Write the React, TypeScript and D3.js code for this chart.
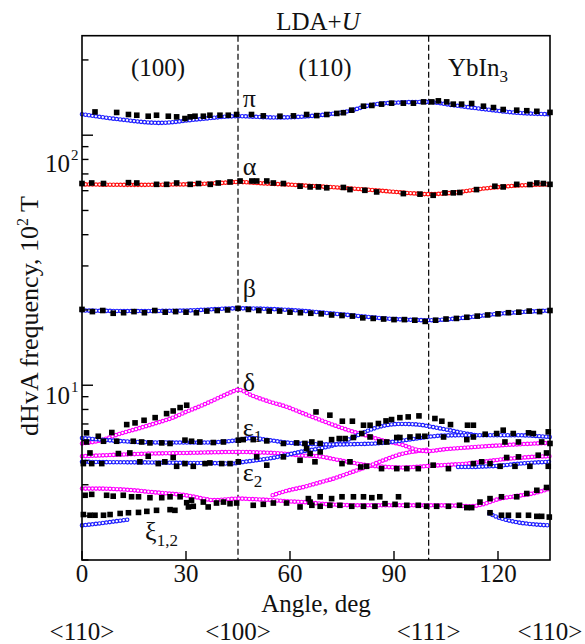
import React from 'react';
import * as d3 from 'd3';

// ---------- data (angle in deg, frequency in 10^2 T) ----------
const xTickValues = [0, 30, 60, 90, 120];
const yMajorValues = [10, 100];
const dividerAngles = [45, 100];
const directionLabels: [string, number][] = [['<110>', 0], ['<100>', 45], ['<111>', 100], ['<110>', 135]];

const piFit = [[0,121.3],[11,115.6],[22.5,112],[33,115.6],[45,119.1],[56,117.7],[67.7,119.9],[78,125.9],[83,131.8],[89,134.6],[99.4,135.9],[107,131.8],[116.7,126.7],[126,122.8],[135,121.3]];
const alphaFit = [[0,63.6],[15,63.3],[30,63.6],[40,64.4],[45,65.0],[52,64.2],[60,63.4],[68,62.5],[78,61.2],[88,59.7],[95,58.6],[100,58.1],[106,58.7],[116,61.2],[126,62.9],[135,63.6]];
const betaFit = [[0,19.9],[15,19.8],[30,19.9],[45,20.3],[60,20.0],[75,19.2],[90,18.4],[100,18.2],[110,18.6],[120,19.3],[135,19.9]];
const eps1Blue = [[0,6.15],[6,6.05],[16,5.93],[25,5.9],[35,5.9],[41,5.95],[45,6.03],[49,6.15],[54,6.03],[59,5.9],[64,5.84],[69,5.8],[75,5.8],[80,5.82],[85,5.85],[90,5.95],[95,6.08],[100,6.22],[105,6.3],[115,6.31],[125,6.31],[135,6.21]];
const eps2Blue = [[0,4.94],[10,4.92],[20,4.91],[30,4.89],[38,4.88],[43,4.86],[47,4.94],[52,5.05],[56,5.15],[60,5.3],[64,5.45],[69,5.6],[72.5,5.75],[77.3,6.1],[82.1,6.55],[86.9,6.88],[91.7,7.0],[96.5,6.97],[101.3,6.8],[106.2,6.6],[111,6.4],[114,6.3]];
const eps2BlueRight = [[108.5,4.71],[112,4.71],[116,4.73],[120,4.76],[125,4.84],[130,4.9],[135,4.94]];
const xiBlueLeft = [[0,2.75],[5,2.8],[10,2.86],[14,2.91]];
const xiBlueRight = [[117.5,3.07],[119,3.0],[121,2.93],[125,2.84],[130,2.78],[135,2.75]];
const deltaFit = [[0,5.85],[5,6.0],[11,6.4],[16,6.7],[21,7.03],[26,7.4],[30,7.82],[35,8.35],[40,8.98],[44,9.5],[45,9.6],[49,9.1],[54,8.6],[59,8.2],[64,7.7],[69,7.24],[73,6.9],[77,6.6],[82,6.3],[87,6.0],[92,5.8],[96,5.55],[99.5,5.45],[105,5.55],[110,5.62],[120,5.74],[130,5.84],[135,5.88]];
const midMagenta = [[0,5.2],[10,5.27],[20,5.33],[30,5.36],[40,5.4],[45,5.41],[52,5.38],[58,5.33],[63,5.24],[68,5.2],[72.5,5.07],[77,4.93],[82,4.79],[87,4.72],[92,4.69],[96,4.71],[99.5,4.75],[105,4.8],[111,4.86],[116,4.95],[121,5.05],[126,5.12],[130,5.17],[135,5.2]];
const riseMagenta = [[55,3.63],[59,3.78],[64,3.92],[69,4.1],[72.5,4.23],[77,4.45],[82,4.71],[87,5.01],[92,5.3],[96.5,5.45],[99.5,5.52]];
const lowMagenta = [[0,3.86],[5,3.86],[10,3.84],[15,3.8],[20,3.74],[25,3.69],[30,3.63],[35,3.52],[38,3.47],[42,3.5],[45,3.52],[50,3.5],[55,3.47],[60,3.43],[64,3.41],[70,3.35],[80,3.31],[90,3.31],[100,3.31],[108,3.3],[112,3.28],[116,3.35],[120,3.5],[125,3.6],[130,3.69],[135,3.86]];

const piObs = [[3.75,123.9],[10,123.3],[13.4,121],[15.8,120.2],[19.1,119.1],[21.5,120.2],[24.9,119.1],[27.3,118.4],[29.7,116.6],[31.2,118.4],[32.6,119.1],[35,119.1],[36.9,120.2],[39.8,120.2],[42.2,120.2],[44.6,121],[48.9,121],[52.3,119.5],[57.1,119.1],[61,119.5],[64.8,121],[67.7,119.8],[70.6,121],[73.5,122.2],[75.4,123],[77.8,125.9],[81.2,130.6],[83.6,131.5],[86.4,133.1],[89.3,134.3],[92.7,134.3],[95.6,134.3],[98.5,135.9],[100.9,135.9],[102.8,137.2],[105.2,135.9],[107.1,133.1],[109.5,133.1],[112.4,133.9],[115.8,130.6],[118.7,129],[121.5,126.7],[125.4,125.9],[128.3,125.3],[131.2,124.6],[135,123.4]];
const alphaObs = [[0,64.1],[2.8,64.4],[6.2,64.1],[13.4,64.6],[15.8,64.4],[21.5,63.6],[24.4,63.6],[27.3,64.4],[31.2,63.6],[33.6,64.1],[37,63.6],[39.3,64.4],[42.7,65.0],[45.6,65.6],[49,65.6],[50.4,65.6],[53.3,65.6],[55.2,64.4],[58.1,64.1],[62.9,62.5],[65.8,62.1],[68.2,62.1],[70.6,61.6],[75.4,61.8],[77.3,60.6],[81.6,60.2],[85,59.3],[92.7,58.4],[97.5,58.1],[101.3,57.5],[104.7,58.8],[107.1,58.8],[109,59],[113.8,60.6],[119.1,62.5],[121.5,62.1],[125.4,63.6],[129.2,63.5],[131.2,64.4],[133.1,64.1],[135,63.6]];
const betaObs = [[0,20.1],[3,19.7],[6,19.9],[9,19.4],[12,19.5],[15,19.7],[18,19.5],[21,19.9],[24,19.6],[27,19.7],[30,19.6],[33,19.5],[36,19.8],[39,19.9],[42,20.0],[45,20.3],[48,20.1],[51,19.9],[54,19.8],[57,19.8],[60,19.6],[63,19.5],[66,19.4],[69,19.3],[72,19.1],[75,19.0],[78,18.9],[81,18.6],[84,18.5],[87,18.4],[90,18.3],[93,18.3],[96,18.2],[99,18.0],[102,18.2],[105,18.4],[108,18.5],[111,18.7],[114,18.9],[117,19.1],[120,19.3],[123,19.5],[126,19.6],[129,19.8],[132,19.7],[135,19.9]];
const deltaObs = [[1.3,6.45],[4.7,6.25],[8.6,6.47],[12.9,6.96],[15.3,7.07],[17.9,7.24],[21.1,7.42],[24.4,7.7],[26.3,7.89],[28.3,8.14],[30.2,8.32],[67.5,7.82],[71.5,7.59],[75.1,7.18],[78,7.18],[81.2,6.92],[83.1,6.92],[85.5,7.03],[87.7,7.2],[89.3,7.29],[91.7,7.42],[94.1,7.47],[97.2,7.54],[101.8,7.36],[103.8,7.18],[106.3,6.96],[111.2,6.92],[112.9,6.92]];
const eps1Obs = [[1.3,5.93],[6.2,5.97],[10,5.97],[14.8,5.97],[17.2,5.93],[19.6,5.88],[23,5.88],[25.4,5.85],[29.7,6.03],[31.6,5.97],[34,5.93],[37.9,5.9],[40.8,5.93],[45.1,6.03],[46.5,6.06],[49.4,6.06],[53.3,5.99],[58.1,5.85],[61.9,5.88],[64.3,5.85],[66.3,5.93],[68.7,5.85],[72,6.06],[74.2,6.12],[75.9,6.12],[78.3,6.18],[80.7,6.41],[83.1,6.21],[85.9,5.93],[87.9,5.93],[90.8,6.18],[91.7,6.18],[94.6,6.21],[97,6.25],[98.9,6.25],[104.3,6.21],[111,6.06],[112.9,6.21],[116.3,6.37],[119.6,6.41],[121.5,6.61],[122,5.93],[124.4,6.41],[125.9,5.93],[128.8,6.45],[130.2,6.41],[132.6,5.93],[134.5,6.51],[135,5.85]];
const midObs = [[0.4,4.86],[2.3,5.36],[2.8,4.86],[5.7,4.86],[10.5,5.33],[13.8,5.36],[16.7,4.94],[19.1,5.2],[22,4.86],[23.9,4.94],[26.3,5.14],[27.3,4.74],[29.7,4.86],[32.1,4.74],[35.5,4.86],[36.9,4.89],[40.3,4.86],[42.7,4.86],[45.1,4.94],[50.4,5.17],[53.3,4.79],[58.1,5.17],[62.9,5.01],[64.8,5.58],[65.8,5.33],[67.2,4.94],[68.7,5.41],[75,4.86],[77.3,4.94],[80.4,4.71],[82.1,4.74],[86.4,4.64],[90.8,4.64],[93.7,4.64],[97,4.64],[101.3,4.79],[105.7,4.64],[112.9,4.86],[115.3,4.94],[117.7,4.86],[120.6,4.74],[122.5,5.14],[124.9,4.74],[125.9,5.17],[129.2,4.74],[131.6,5.25],[134,5.36],[134.5,4.74]];
const eps2Obs = [[0.9,3.63],[2.8,3.66],[7.1,3.63],[9,3.6],[11.9,3.63],[14.3,3.58],[16.3,3.58],[19.6,3.55],[23,3.55],[25.4,3.58],[28.3,3.58],[30.2,3.39],[31.6,3.47],[35,3.41],[36.4,3.26],[38.8,3.38],[40.8,3.41],[42.7,3.36],[44.6,3.38],[49.4,3.31],[52.3,3.34],[55.2,3.38],[59,3.38],[62.9,3.26],[65.8,3.41],[65.3,3.52],[68.7,3.58],[72,3.52],[75,3.58],[78.3,3.58],[81.2,3.58],[83.6,3.55],[85.9,3.58],[91.3,3.58],[66.3,3.31],[68.7,3.28],[71.5,3.31],[74.4,3.31],[77.8,3.28],[81.2,3.28],[84.5,3.28],[87.4,3.36],[90.3,3.34],[93.7,3.31],[97,3.31],[99.4,3.28],[102.3,3.28],[105.7,3.28],[108.9,3.31],[111,3.24],[112.4,3.24],[114.8,3.41],[117.7,3.52],[121,3.58],[125.4,3.58],[128.3,3.69],[131.2,3.8],[134,3.9]];
const xiObs = [[0.4,3.04],[2.3,3.02],[3.75,3.02],[6.2,3.02],[8.1,3.04],[11,3.07],[13.4,3.09],[16.3,3.1],[18.7,3.13],[21.5,3.16],[25.4,3.18],[26.8,3.16],[30.7,3.26],[32.1,3.28],[117.7,3.09],[121,3.02],[123,3.02],[125.9,3.02],[128.8,3.02],[131.2,2.99],[132.6,2.99],[134.8,2.97]];

const BLUE = '#1f1fff';
const RED = '#ff1010';
const MAGENTA = '#ff00ff';
const FONT = '"Liberation Serif", "DejaVu Serif", serif';

export default function App() {
  const x = d3.scaleLinear().domain([0, 135]).range([82, 550]);
  const y = d3.scaleLog().domain([2, 250]).range([560, 35.7]);
  const [x0, x1] = x.range();
  const [yb, yt] = y.range();
  const line = d3.line<number[]>().x(d => x(d[0])).y(d => y(d[1])).curve(d3.curveMonotoneX);

  const fits: { data: number[][]; color: string }[] = [
    { data: piFit, color: BLUE },
    { data: alphaFit, color: RED },
    { data: betaFit, color: BLUE },
    { data: lowMagenta, color: MAGENTA },
    { data: xiBlueLeft, color: BLUE },
    { data: xiBlueRight, color: BLUE },
    { data: midMagenta, color: MAGENTA },
    { data: eps2BlueRight, color: BLUE },
    { data: riseMagenta, color: MAGENTA },
    { data: deltaFit, color: MAGENTA },
    { data: eps2Blue, color: BLUE },
    { data: eps1Blue, color: BLUE },
  ];
  const observed = [piObs, alphaObs, betaObs, deltaObs, eps1Obs, midObs, eps2Obs, xiObs];
  const yTicks = y.ticks();
  const sq = 5.6;

  const greek: { t: string; sub?: string; a: number; v: number }[] = [
    { t: 'π', a: 46.4, v: 129.4 },
    { t: 'α', a: 46.4, v: 69.2 },
    { t: 'β', a: 46.4, v: 22.5 },
    { t: 'δ', a: 46.4, v: 9.46 },
    { t: 'ε', sub: '1', a: 46.4, v: 6.25 },
    { t: 'ε', sub: '2', a: 46.4, v: 4.13 },
    { t: 'ξ', sub: '1,2', a: 18.2, v: 2.4 },
  ];

  const txt = { fontFamily: FONT, fill: '#111' } as React.CSSProperties;

  return (
    <svg width={585} height={644} style={{ position: 'absolute', left: 0, top: 0, background: '#fff' }}>
      <rect x={0} y={0} width={585} height={644} fill="#fff" />
      {dividerAngles.map((a, i) => (
        <line key={i} x1={x(a)} x2={x(a)} y1={yt} y2={yb} stroke="#000" strokeWidth={1.2} strokeDasharray="6 3" />
      ))}
      {fits.map((f, i) => {
        const d = line(f.data) || '';
        return (
          <g key={i}>
            <path d={d} fill="none" stroke={f.color} strokeWidth={4.6} strokeLinecap="round" strokeDasharray="0 3.5" />
            <path d={d} fill="none" stroke="#fff" strokeWidth={2.3} strokeLinecap="round" strokeDasharray="0 3.5" />
          </g>
        );
      })}
      {observed.map((arr, i) => (
        <g key={i}>
          {arr.map((p, j) => (
            <rect key={j} x={x(p[0]) - sq / 2} y={y(p[1]) - sq / 2} width={sq} height={sq} fill="#000" />
          ))}
        </g>
      ))}
      <rect x={x0} y={yt} width={x1 - x0} height={yb - yt} fill="none" stroke="#000" strokeWidth={1.6} />
      {yTicks.map((t, i) => {
        const major = yMajorValues.includes(t);
        return <line key={i} x1={x0} x2={x0 + (major ? 11 : 6.5)} y1={y(t)} y2={y(t)} stroke="#000" strokeWidth={1.4} />;
      })}
      {xTickValues.map((t, i) => (
        <g key={i}>
          <line x1={x(t)} x2={x(t)} y1={yb} y2={yb - 9} stroke="#000" strokeWidth={1.4} />
          <text x={x(t)} y={582} fontSize={25} textAnchor="middle" style={txt}>{t}</text>
        </g>
      ))}
      <text x={70} y={172} fontSize={25} textAnchor="end" style={txt}>10</text>
      <text x={71} y={160} fontSize={15} style={txt}>2</text>
      <text x={70} y={404} fontSize={25} textAnchor="end" style={txt}>10</text>
      <text x={71} y={392} fontSize={15} style={txt}>1</text>
      <text x={(x0 + x1) / 2} y={612} fontSize={25} textAnchor="middle" style={txt}>Angle, deg</text>
      {directionLabels.map(([s, a], i) => (
        <text key={i} x={x(a)} y={640} fontSize={25} textAnchor="middle" style={txt}>{s}</text>
      ))}
      <text transform="translate(38,316) rotate(-90)" fontSize={26} textAnchor="middle" style={txt}>
        dHvA frequency, 10<tspan dy={-10} fontSize={16}>2</tspan><tspan dy={10}> T</tspan>
      </text>
      <text x={318} y={30} fontSize={25} textAnchor="middle" style={txt}>LDA+<tspan fontStyle="italic">U</tspan></text>
      <text x={158} y={76} fontSize={25} textAnchor="middle" style={txt}>(100)</text>
      <text x={325} y={76} fontSize={25} textAnchor="middle" style={txt}>(110)</text>
      <text x={448} y={76} fontSize={25} style={txt}>YbIn<tspan dy={6} fontSize={17}>3</tspan></text>
      {greek.map((g, i) => (
        <text key={i} x={x(g.a)} y={y(g.v)} fontSize={26} style={txt}>
          {g.t}
          {g.sub && <tspan dy={6} fontSize={17}>{g.sub}</tspan>}
        </text>
      ))}
    </svg>
  );
}
